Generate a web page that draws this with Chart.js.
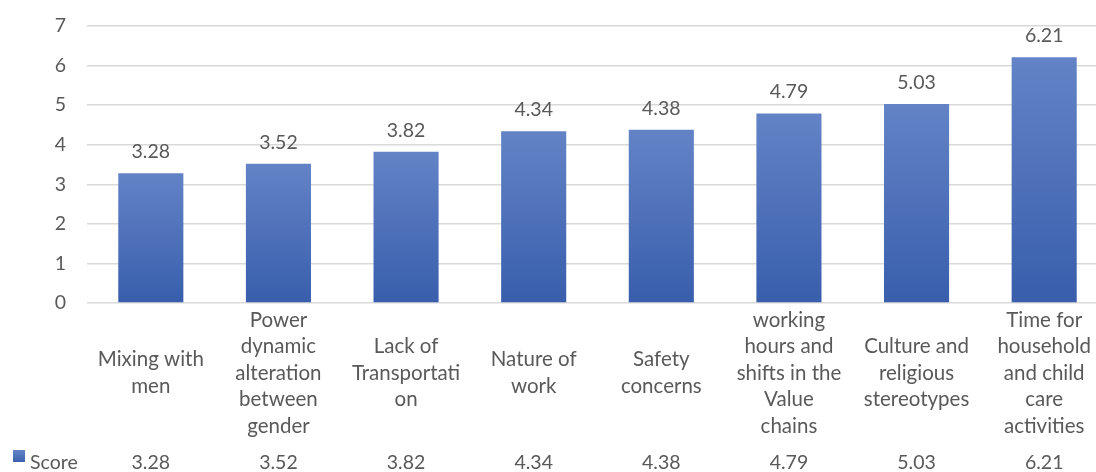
<!DOCTYPE html>
<html>
<head>
<meta charset="utf-8">
<script src="https://cdn.jsdelivr.net/npm/chart.js@4/dist/chart.umd.min.js"></script>
<style>
  html, body { margin: 0; padding: 0; background: #fff; overflow: hidden; }
  #wrap { position: relative; width: 1110px; height: 472px; }
</style>
</head>
<body>
<div id="wrap"><canvas id="scoreChart"></canvas></div>
<script>
// ===== Barriers score chart =====

const categories = [
  ['Mixing with', 'men'],
  ['Power', 'dynamic', 'alteration', 'between', 'gender'],
  ['Lack of', 'Transportati', 'on'],
  ['Nature of', 'work'],
  ['Safety', 'concerns'],
  ['working', 'hours and', 'shifts in the', 'Value', 'chains'],
  ['Culture and', 'religious', 'stereotypes'],
  ['Time for', 'household', 'and child', 'care', 'activities']
];
const scores = [3.28, 3.52, 3.82, 4.34, 4.38, 4.79, 5.03, 6.21];
const seriesName = 'Score';
const yTicks = [0, 1, 2, 3, 4, 5, 6, 7];

const FONT = 'Lato, "Open Sans", sans-serif';
const TEXT_COLOR = '#595959';
const BAR_TOP = 'rgb(99,131,198)';
const BAR_BOTTOM = 'rgb(56,94,172)';

// per-bar vertical gradient, lighter at the top
function barFill(context) {
  const chart = context.chart;
  if (!chart.chartArea || context.raw === undefined) return BAR_BOTTOM;
  const y = chart.scales.y;
  const top = y.getPixelForValue(context.raw);
  const base = y.getPixelForValue(0);
  const g = chart.ctx.createLinearGradient(0, top, 0, base);
  g.addColorStop(0, BAR_TOP);
  g.addColorStop(1, BAR_BOTTOM);
  return g;
}

// value labels above the bars
const valueLabels = {
  id: 'valueLabels',
  afterDatasetsDraw(chart) {
    const ctx = chart.ctx;
    const meta = chart.getDatasetMeta(0);
    ctx.save();
    ctx.font = '19.5px ' + FONT;
    ctx.fillStyle = TEXT_COLOR;
    ctx.textAlign = 'center';
    ctx.textBaseline = 'alphabetic';
    meta.data.forEach((bar, i) => {
      ctx.fillText(scores[i].toFixed(2), bar.x, bar.y - 15);
    });
    ctx.restore();
  }
};

// data table row under the category labels
const dataTable = {
  id: 'dataTable',
  afterDraw(chart) {
    const ctx = chart.ctx;
    const x = chart.scales.x;
    const rowY = 469;
    ctx.save();
    const g = ctx.createLinearGradient(0, 450, 0, 463);
    g.addColorStop(0, BAR_TOP);
    g.addColorStop(1, BAR_BOTTOM);
    ctx.fillStyle = g;
    ctx.fillRect(13, 450, 12, 12);
    ctx.font = '19.5px ' + FONT;
    ctx.fillStyle = TEXT_COLOR;
    ctx.textBaseline = 'alphabetic';
    ctx.textAlign = 'left';
    ctx.fillText(seriesName, 30, rowY);
    ctx.textAlign = 'center';
    scores.forEach((v, i) => {
      ctx.fillText(v.toFixed(2), x.getPixelForValue(i), rowY);
    });
    ctx.restore();
  }
};

const ctx = document.getElementById('scoreChart').getContext('2d');

const chart = new Chart(ctx, {
  type: 'bar',
  data: {
    labels: categories,
    datasets: [{
      label: seriesName,
      data: scores,
      backgroundColor: barFill,
      borderWidth: 0,
      categoryPercentage: 1,
      barPercentage: 0.51
    }]
  },
  options: {
    responsive: true,
    maintainAspectRatio: false,
    animation: false,
    layout: {
      padding: { top: 26, right: 2, bottom: 30, left: 0 }
    },
    plugins: {
      legend: { display: false },
      tooltip: { enabled: false }
    },
    scales: {
      x: {
        afterFit: (scale) => { scale.height = 139; },
        grid: { display: false, drawTicks: false },
        border: { display: false },
        ticks: {
          color: TEXT_COLOR,
          font: { family: FONT, size: 20.5, lineHeight: '26.5px' },
          maxRotation: 0,
          minRotation: 0,
          autoSkip: false,
          crossAlign: 'center',
          padding: 17
        }
      },
      y: {
        min: yTicks[0],
        max: yTicks[yTicks.length - 1],
        afterFit: (scale) => { scale.width = 87; },
        afterBuildTicks: (scale) => {
          scale.ticks = yTicks.map(v => ({ value: v }));
        },
        grid: {
          color: '#d9d9d9',
          lineWidth: 1.5,
          drawTicks: true,
          tickLength: 21,
          tickColor: 'rgba(0,0,0,0)'
        },
        border: { display: false },
        ticks: {
          color: TEXT_COLOR,
          font: { family: FONT, size: 19.5 },
          padding: 0
        }
      }
    }
  },
  plugins: [valueLabels, dataTable]
});
</script>
</body>
</html>
